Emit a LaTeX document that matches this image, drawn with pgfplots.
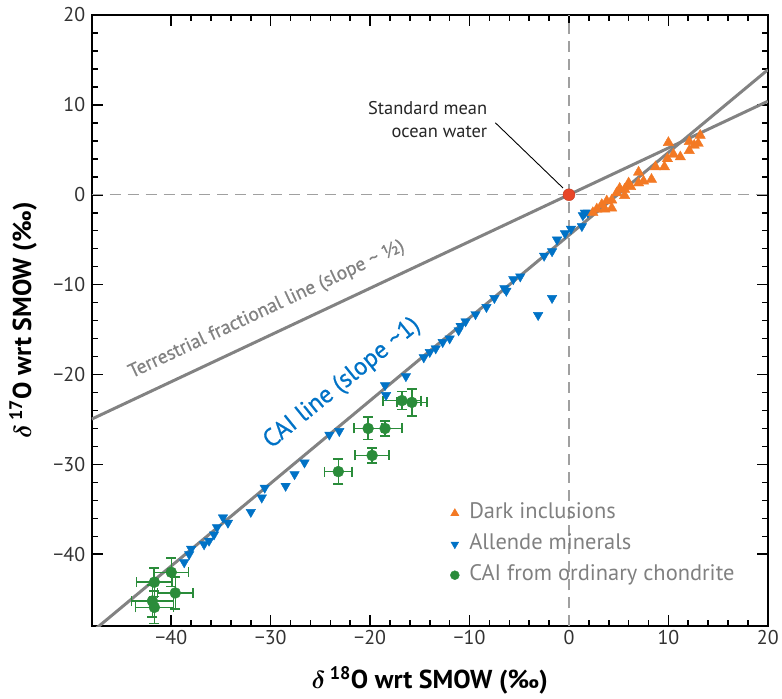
\documentclass[border=0pt]{standalone}
\usepackage{fontspec}
\setmainfont{PT Sans}
\newfontfamily\semib{PT Sans}[FakeBold=0.6]
\usepackage{amsmath,bm}
\usepackage{pgfplots}
\pgfplotsset{compat=1.18}
\definecolor{orng}{RGB}{243,121,36}
\definecolor{blu}{RGB}{0,114,198}
\definecolor{grn}{RGB}{42,140,58}
\definecolor{redd}{RGB}{232,70,40}
\definecolor{lgray}{RGB}{130,130,130}
\definecolor{dgray}{RGB}{160,160,160}
\definecolor{tickc}{RGB}{50,50,50}
\definecolor{legc}{RGB}{128,128,128}

\pgfplotstableread{
x y
2.4 -2.0
2.8 -1.6
3.3 -1.1
3.6 -1.6
3.8 -0.7
4.3 -0.6
4.3 -1.5
4.8 0.2
5.1 0.7
5.6 0.6
5.6 -0.1
6.0 1.3
6.2 0.9
7.0 1.3
7.0 2.5
7.5 1.5
8.3 1.7
8.7 3.1
9.6 3.1
9.9 4.0
10.0 5.8
10.5 4.5
11.2 4.2
12.1 4.9
12.1 5.9
13.0 5.7
13.2 6.6
12.6 5.5
}\darkinc

\pgfplotstableread{
x y
1.9 -2.0
1.6 -2.0
1.4 -2.3
1.3 -3.5
0.2 -3.8
-0.4 -4.3
-1.2 -5.0
-1.7 -6.3
-2.5 -6.8
-4.9 -9.1
-5.6 -9.4
-6.5 -10.4
-6.3 -10.7
-7.5 -11.5
-8.3 -12.5
-9.4 -13.3
-10.4 -14.1
-10.9 -14.6
-11.1 -15.1
-12.0 -16.0
-12.7 -16.4
-13.4 -17.1
-14.0 -17.5
-14.6 -18.1
-16.4 -20.2
-18.5 -21.2
-18.4 -22.3
-23.1 -26.3
-24.1 -26.7
-26.6 -29.8
-27.6 -31.1
-28.5 -32.4
-30.6 -32.6
-30.9 -33.7
-32.0 -35.3
-34.8 -35.9
-34.3 -36.5
-35.4 -37.0
-35.7 -37.8
-36.2 -38.5
-36.7 -38.9
-38.0 -39.4
-38.2 -40.0
-38.7 -40.9
-1.7 -11.5
-3.1 -13.4
}\allende

\pgfplotstableread{
x y ex ey
-16.8 -22.9 1.9 1.0
-15.8 -23.1 1.5 1.5
-20.2 -26.0 1.4 1.25
-18.5 -26.0 1.7 0.85
-19.8 -29.0 1.7 0.85
-23.2 -30.8 1.4 1.4
-40.0 -42.0 1.75 1.6
-41.7 -43.1 1.8 1.6
-39.6 -44.3 1.8 1.8
-41.9 -45.2 2.1 1.8
-41.7 -45.9 1.9 1.8
}\cai

\begin{document}
\begin{tikzpicture}
\begin{axis}[
  scale only axis, width=678pt, height=613pt,
  xmin=-48, xmax=20, ymin=-48, ymax=20,
  xtick={-40,-30,-20,-10,0,10,20},
  xticklabels={−40,−30,−20,−10,0,10,20},
  ytick={-40,-30,-20,-10,0,10,20},
  yticklabels={−40,−30,−20,−10,0,10,20},
  minor tick num=4,
  tick align=inside,
  major tick length=11pt, minor tick length=6pt,
  every tick/.style={black, line width=1.6pt},
  axis line style={line width=2.2pt, black},
  ticklabel style={font=\fontsize{20}{20}\selectfont, text=tickc},
  xticklabel style={yshift=-1pt},
  yticklabel style={xshift=-3pt},
  xlabel={$\bm{\delta}$\,\textsuperscript{18}O wrt SMOW (‰)},
  ylabel={$\bm{\delta}$\,\textsuperscript{17}O wrt SMOW (‰)},
  label style={font=\fontsize{26}{26}\selectfont\bfseries},
  xlabel style={at={(axis description cs:0.5,0)}, anchor=center, yshift=-54pt},
  ylabel style={at={(axis description cs:0,0.5)}, anchor=center, yshift=69pt},
  legend style={at={(axis cs:-11.95,-34.15)}, anchor=north west, draw=none, fill=none,
    inner sep=0pt, font=\fontsize{22.5}{22.5}\selectfont, text=legc, row sep=8pt,
    nodes={text height=15pt, text depth=4pt, inner sep=2pt},
    /tikz/every odd column/.append style={column sep=8pt}},
  legend cell align=left,
  clip=true,
]
\coordinate (SW) at (rel axis cs:0,0);
\coordinate (NE) at (rel axis cs:1,1);
% reference dashed lines
\addplot[forget plot, dgray, line width=1.5pt, dash pattern=on 11pt off 7pt] coordinates {(-48,0) (20,0)};
\addplot[forget plot, dgray, line width=1.5pt, dash pattern=on 11pt off 7pt] coordinates {(0,-48) (0,20)};
% fitted lines
\addplot[forget plot, lgray, line width=3pt] coordinates {(-48,-24.96) (20,10.4)};
\addplot[forget plot, lgray, line width=3pt] coordinates {(-48,-48.66) (20,13.9)};
% annotation leader
\draw[black, line width=0.9pt] (axis cs:-7.4,8.0) -- (axis cs:-0.6,0.75);
% data
\addplot[forget plot, only marks, mark=triangle*, mark size=5.5pt, mark options={rotate=180, fill=blu, draw=blu}] table[x=x,y=y] {\allende};
\addplot[forget plot, only marks, mark=triangle*, mark size=6pt, mark options={fill=orng, draw=orng}] table[x=x,y=y] {\darkinc};
\addplot[forget plot, only marks, mark=*, mark size=5.5pt, mark options={fill=grn, draw=grn},
  error bars/.cd, x dir=both, x explicit, y dir=both, y explicit,
  error bar style={line width=1.5pt, grn},
  error mark options={rotate=90, mark size=5pt, line width=1.5pt, grn}]
  table[x=x,y=y,x error=ex,y error=ey] {\cai};
% SMOW point
\addplot[forget plot, only marks, mark=*, mark size=6pt, mark options={fill=redd, draw=redd!85!black}] coordinates {(0,0)};
% legend
\addlegendimage{only marks, mark=triangle*, mark size=4.8pt, mark options={fill=orng, draw=orng}}
\addlegendentry{Dark inclusions}
\addlegendimage{only marks, mark=triangle*, mark size=4.5pt, mark options={rotate=180, fill=blu, draw=blu}}
\addlegendentry{Allende minerals}
\addlegendimage{only marks, mark=*, mark size=4.5pt, mark options={fill=grn, draw=grn}}
\addlegendentry{CAI from ordinary chondrite}
% text labels
\node[text=lgray, font=\semib\fontsize{19.5}{19.5}\selectfont, rotate=25.1] at (axis cs:-30.4,-12.8) {Terrestrial fractional line (slope \textasciitilde{} ½)};
\node[text=blu, font=\semib\fontsize{25}{25}\selectfont, rotate=39] at (axis cs:-22.8,-21.0) {CAI line (slope \textasciitilde1)};
\node[align=right, anchor=east, inner sep=0pt, font=\fontsize{18.5}{23}\selectfont, text=black!85] at (axis cs:-8.2,8.4) {Standard mean\\ocean water};
\end{axis}
\path (SW) ++(-92pt,-72pt) rectangle ([shift={(12pt,15pt)}]NE);
\end{tikzpicture}
\end{document}
